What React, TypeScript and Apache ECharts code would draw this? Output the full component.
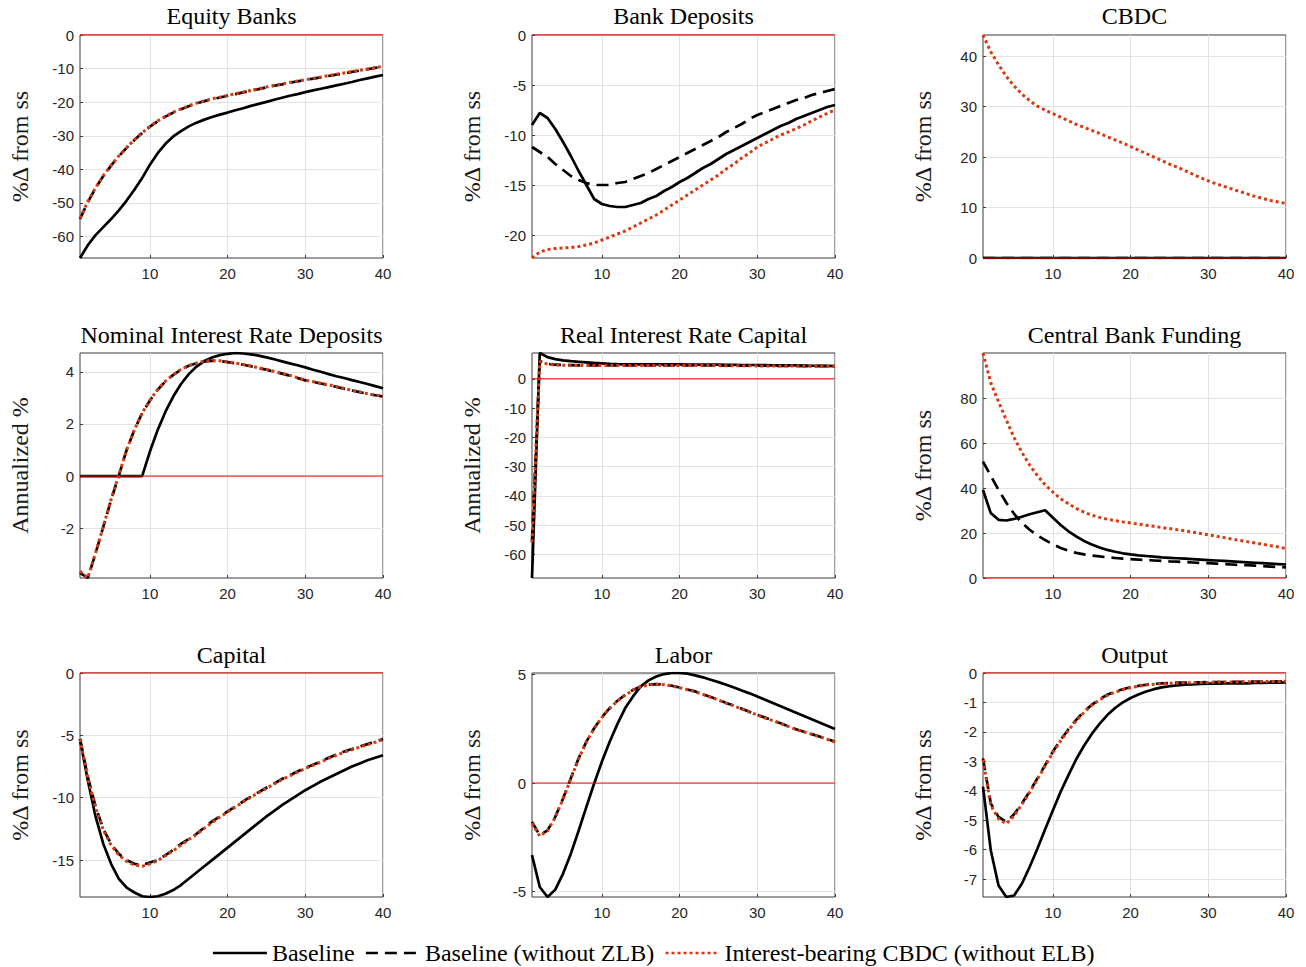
import React, { useEffect, useRef } from "react";
import * as echarts from "echarts";

const periods = [1, 2, 3, 4, 5, 6, 7, 8, 9, 10, 11, 12, 13, 14, 15, 16, 17, 18, 19, 20, 21, 22, 23, 24, 25, 26, 27, 28, 29, 30, 31, 32, 33, 34, 35, 36, 37, 38, 39, 40];
const xTickValues = [10, 20, 30, 40];
const zeroLineX = [1, 40];
const zeroLineY = [0, 0];

const seriesNames = ["Baseline", "Baseline (without ZLB)", "Interest-bearing CBDC (without ELB)"];
const panelTitles = [
  "Equity Banks", "Bank Deposits", "CBDC",
  "Nominal Interest Rate Deposits", "Real Interest Rate Capital", "Central Bank Funding",
  "Capital", "Labor", "Output",
];
const yAxisNames = [
  "%Δ from ss", "%Δ from ss", "%Δ from ss",
  "Annualized %", "Annualized %", "%Δ from ss",
  "%Δ from ss", "%Δ from ss", "%Δ from ss",
];
const yTickValues = [
  [-60, -50, -40, -30, -20, -10, 0],
  [-20, -15, -10, -5, 0],
  [0, 10, 20, 30, 40],
  [-2, 0, 2, 4],
  [-60, -50, -40, -30, -20, -10, 0],
  [0, 20, 40, 60, 80],
  [-15, -10, -5, 0],
  [-5, 0, 5],
  [-7, -6, -5, -4, -3, -2, -1, 0],
];
const yMins = [-66.4, -22.3, 0, -3.91, -68, 0, -17.96, -5.26, -7.61];
const yMaxs = [0, 0, 44.2, 4.72, 8.8, 100.2, 0, 5.08, 0];

// Equity Banks
const equitySolid = [-66.4, -62.6, -59.6, -57.2, -54.8, -52.2, -49.3, -46.1, -42.6, -38.6, -35.2, -32.4, -30.2, -28.6, -27.2, -26.1, -25.2, -24.4, -23.7, -23.1, -22.4, -21.8, -21.1, -20.5, -19.9, -19.3, -18.7, -18.1, -17.6, -17.0, -16.5, -16.0, -15.5, -15.0, -14.5, -14.0, -13.4, -12.9, -12.4, -11.9];
const equityDashed = [-54.8, -49.8, -45.6, -42.0, -38.9, -36.1, -33.6, -31.3, -29.2, -27.3, -25.7, -24.3, -23.1, -22.1, -21.2, -20.4, -19.7, -19.1, -18.6, -18.1, -17.6, -17.1, -16.6, -16.1, -15.6, -15.1, -14.7, -14.2, -13.8, -13.4, -13.0, -12.6, -12.2, -11.8, -11.4, -11.0, -10.6, -10.2, -9.8, -9.4];
const equityDotted = [-54.6, -49.6, -45.5, -41.9, -38.8, -36.0, -33.5, -31.2, -29.1, -27.2, -25.6, -24.2, -23.0, -22.0, -21.1, -20.3, -19.6, -19.0, -18.5, -18.0, -17.5, -17.0, -16.5, -16.0, -15.5, -15.0, -14.6, -14.1, -13.7, -13.3, -12.9, -12.5, -12.1, -11.7, -11.3, -10.9, -10.5, -10.1, -9.7, -9.3];

// Bank Deposits
const depositsSolid = [-9.0, -7.8, -8.3, -9.4, -10.7, -12.1, -13.6, -15.0, -16.4, -16.9, -17.1, -17.2, -17.2, -17.0, -16.8, -16.4, -16.1, -15.6, -15.2, -14.7, -14.3, -13.8, -13.3, -12.9, -12.4, -11.9, -11.5, -11.1, -10.7, -10.3, -9.9, -9.5, -9.1, -8.8, -8.4, -8.1, -7.8, -7.5, -7.2, -7.0];
const depositsDashed = [-11.2, -11.7, -12.2, -12.9, -13.5, -14.1, -14.5, -14.8, -15.0, -15.0, -15.0, -14.8, -14.7, -14.4, -14.1, -13.8, -13.4, -13.0, -12.6, -12.2, -11.8, -11.4, -11.0, -10.6, -10.2, -9.7, -9.3, -8.9, -8.4, -8.0, -7.7, -7.4, -7.1, -6.8, -6.5, -6.3, -6.0, -5.8, -5.6, -5.4];
const depositsDotted = [-22.3, -21.7, -21.45, -21.35, -21.3, -21.25, -21.15, -21.0, -20.8, -20.5, -20.2, -19.9, -19.6, -19.2, -18.8, -18.4, -18.0, -17.5, -17.0, -16.5, -16.0, -15.5, -15.0, -14.5, -14.0, -13.4, -12.9, -12.3, -11.8, -11.2, -10.8, -10.4, -10.0, -9.7, -9.35, -9.0, -8.6, -8.2, -7.85, -7.5];

// CBDC
const cbdcSolid = [0, 0, 0, 0, 0, 0, 0, 0, 0, 0, 0, 0, 0, 0, 0, 0, 0, 0, 0, 0, 0, 0, 0, 0, 0, 0, 0, 0, 0, 0, 0, 0, 0, 0, 0, 0, 0, 0, 0, 0];
const cbdcDashed = [0, 0, 0, 0, 0, 0, 0, 0, 0, 0, 0, 0, 0, 0, 0, 0, 0, 0, 0, 0, 0, 0, 0, 0, 0, 0, 0, 0, 0, 0, 0, 0, 0, 0, 0, 0, 0, 0, 0, 0];
const cbdcDotted = [44.2, 40.9, 38.3, 36.0, 34.1, 32.5, 31.2, 30.1, 29.3, 28.6, 27.9, 27.2, 26.5, 25.9, 25.3, 24.7, 24.0, 23.4, 22.8, 22.1, 21.4, 20.7, 20.0, 19.3, 18.6, 18.0, 17.3, 16.6, 15.9, 15.3, 14.7, 14.2, 13.7, 13.2, 12.7, 12.2, 11.8, 11.4, 11.1, 10.8];

// Nominal Interest Rate Deposits
const nominalSolid = [0, 0, 0, 0, 0, 0, 0, 0, 0, 0.94, 1.77, 2.47, 3.05, 3.53, 3.91, 4.2, 4.41, 4.55, 4.64, 4.69, 4.72, 4.7, 4.67, 4.62, 4.55, 4.48, 4.4, 4.32, 4.25, 4.17, 4.08, 4.0, 3.91, 3.83, 3.76, 3.68, 3.61, 3.53, 3.45, 3.37];
const nominalDashed = [-3.71, -3.91, -2.97, -1.95, -0.92, 0.02, 1.0, 1.77, 2.41, 2.9, 3.31, 3.63, 3.88, 4.08, 4.23, 4.33, 4.4, 4.42, 4.41, 4.37, 4.32, 4.27, 4.21, 4.14, 4.08, 4.0, 3.93, 3.85, 3.76, 3.67, 3.61, 3.55, 3.49, 3.42, 3.35, 3.28, 3.22, 3.15, 3.1, 3.05];
const nominalDotted = [-3.65, -3.9, -2.95, -1.93, -0.9, 0.04, 1.0, 1.78, 2.42, 2.91, 3.32, 3.64, 3.89, 4.09, 4.24, 4.34, 4.41, 4.43, 4.42, 4.38, 4.33, 4.28, 4.22, 4.15, 4.09, 4.01, 3.94, 3.86, 3.77, 3.68, 3.62, 3.56, 3.5, 3.43, 3.36, 3.29, 3.23, 3.16, 3.11, 3.06];

// Real Interest Rate Capital
const realSolid = [-68.0, 8.8, 7.4, 6.7, 6.3, 6.0, 5.8, 5.6, 5.4, 5.25, 5.1, 5.0, 4.95, 4.9, 4.9, 4.9, 4.9, 4.9, 4.9, 4.9, 4.85, 4.85, 4.8, 4.8, 4.8, 4.75, 4.75, 4.7, 4.7, 4.7, 4.65, 4.6, 4.6, 4.55, 4.55, 4.5, 4.45, 4.45, 4.4, 4.35];
const realDashed = [-55.5, 6.0, 5.1, 4.8, 4.7, 4.65, 4.6, 4.6, 4.6, 4.6, 4.6, 4.6, 4.6, 4.6, 4.6, 4.6, 4.6, 4.6, 4.6, 4.6, 4.6, 4.6, 4.55, 4.55, 4.55, 4.5, 4.5, 4.5, 4.5, 4.45, 4.45, 4.45, 4.4, 4.4, 4.4, 4.35, 4.35, 4.3, 4.3, 4.3];
const realDotted = [-55.8, 5.9, 5.0, 4.75, 4.65, 4.6, 4.55, 4.55, 4.55, 4.55, 4.55, 4.55, 4.55, 4.55, 4.55, 4.55, 4.55, 4.55, 4.55, 4.55, 4.55, 4.55, 4.5, 4.5, 4.5, 4.45, 4.45, 4.45, 4.45, 4.4, 4.4, 4.4, 4.35, 4.35, 4.35, 4.3, 4.3, 4.25, 4.25, 4.25];

// Central Bank Funding
const cbfSolid = [39.2, 28.9, 25.9, 25.6, 26.3, 27.3, 28.4, 29.3, 30.2, 26.8, 23.6, 20.8, 18.5, 16.5, 14.9, 13.6, 12.5, 11.7, 11.0, 10.5, 10.1, 9.8, 9.5, 9.2, 9.0, 8.8, 8.6, 8.4, 8.2, 8.0, 7.8, 7.6, 7.4, 7.2, 7.0, 6.8, 6.6, 6.4, 6.2, 6.0];
const cbfDashed = [51.8, 45.5, 39.3, 33.5, 28.6, 24.6, 21.5, 19.0, 16.9, 15.0, 13.4, 12.2, 11.2, 10.5, 10.0, 9.6, 9.2, 8.9, 8.6, 8.4, 8.2, 8.0, 7.8, 7.6, 7.4, 7.3, 7.1, 6.9, 6.7, 6.6, 6.4, 6.2, 6.0, 5.8, 5.7, 5.5, 5.3, 5.1, 4.9, 4.7];
const cbfDotted = [100.2, 87.0, 78.5, 70.4, 62.5, 56.0, 50.3, 45.6, 41.5, 38.2, 35.3, 33.0, 31.0, 29.3, 28.0, 27.0, 26.2, 25.6, 25.0, 24.5, 24.0, 23.5, 23.0, 22.5, 22.0, 21.5, 21.0, 20.4, 19.8, 19.2, 18.6, 18.0, 17.4, 16.8, 16.2, 15.6, 15.0, 14.4, 13.8, 13.1];

// Capital
const capitalSolid = [-5.3, -8.6, -11.5, -13.7, -15.3, -16.5, -17.2, -17.6, -17.9, -17.96, -17.9, -17.7, -17.4, -17.0, -16.5, -16.0, -15.5, -15.0, -14.5, -14.0, -13.5, -13.0, -12.5, -12.0, -11.5, -11.05, -10.6, -10.2, -9.8, -9.4, -9.05, -8.7, -8.4, -8.1, -7.8, -7.5, -7.25, -7.0, -6.8, -6.6];
const capitalDashed = [-5.3, -8.3, -10.7, -12.5, -13.7, -14.5, -15.0, -15.3, -15.4, -15.2, -15.0, -14.6, -14.2, -13.7, -13.3, -12.9, -12.4, -11.9, -11.5, -11.1, -10.7, -10.3, -9.9, -9.55, -9.2, -8.85, -8.5, -8.2, -7.9, -7.6, -7.35, -7.1, -6.8, -6.55, -6.3, -6.1, -5.9, -5.7, -5.5, -5.3];
const capitalDotted = [-5.3, -8.4, -10.8, -12.6, -13.8, -14.6, -15.1, -15.4, -15.5, -15.3, -15.05, -14.65, -14.25, -13.8, -13.35, -12.95, -12.45, -12.0, -11.55, -11.15, -10.75, -10.35, -9.95, -9.6, -9.25, -8.9, -8.55, -8.25, -7.95, -7.65, -7.4, -7.15, -6.85, -6.6, -6.35, -6.15, -5.95, -5.75, -5.55, -5.35];

// Labor
const laborSolid = [-3.33, -4.8, -5.26, -4.92, -4.18, -3.26, -2.2, -1.1, -0.02, 0.99, 1.91, 2.73, 3.46, 4.0, 4.46, 4.74, 4.92, 5.03, 5.08, 5.08, 5.05, 4.97, 4.88, 4.77, 4.66, 4.54, 4.41, 4.27, 4.14, 4.0, 3.85, 3.7, 3.55, 3.4, 3.25, 3.1, 2.95, 2.8, 2.65, 2.5];
const laborDashed = [-1.79, -2.41, -2.18, -1.56, -0.71, 0.22, 1.14, 1.91, 2.53, 3.04, 3.46, 3.8, 4.07, 4.3, 4.46, 4.54, 4.57, 4.55, 4.49, 4.41, 4.32, 4.23, 4.1, 3.97, 3.84, 3.7, 3.57, 3.43, 3.29, 3.15, 3.02, 2.89, 2.76, 2.62, 2.48, 2.37, 2.26, 2.15, 2.03, 1.91];
const laborDotted = [-1.85, -2.45, -2.2, -1.58, -0.73, 0.2, 1.12, 1.9, 2.52, 3.03, 3.45, 3.79, 4.06, 4.29, 4.45, 4.53, 4.56, 4.54, 4.48, 4.4, 4.31, 4.22, 4.09, 3.96, 3.83, 3.69, 3.56, 3.42, 3.28, 3.14, 3.01, 2.88, 2.75, 2.61, 2.47, 2.36, 2.25, 2.14, 2.02, 1.9];

// Output
const outputSolid = [-3.86, -6.02, -7.22, -7.61, -7.56, -7.16, -6.59, -5.97, -5.31, -4.66, -4.03, -3.47, -2.93, -2.47, -2.07, -1.73, -1.43, -1.19, -1.0, -0.85, -0.73, -0.63, -0.55, -0.49, -0.45, -0.42, -0.4, -0.39, -0.37, -0.36, -0.36, -0.35, -0.35, -0.35, -0.35, -0.34, -0.34, -0.33, -0.33, -0.32];
const outputDashed = [-2.9, -4.43, -4.89, -5.06, -4.8, -4.43, -4.03, -3.58, -3.13, -2.67, -2.27, -1.91, -1.59, -1.31, -1.08, -0.89, -0.74, -0.63, -0.55, -0.48, -0.44, -0.4, -0.37, -0.35, -0.34, -0.33, -0.33, -0.32, -0.32, -0.31, -0.31, -0.31, -0.3, -0.3, -0.3, -0.29, -0.29, -0.29, -0.28, -0.28];
const outputDotted = [-2.95, -4.5, -4.95, -5.12, -4.85, -4.47, -4.06, -3.61, -3.16, -2.7, -2.3, -1.94, -1.62, -1.34, -1.1, -0.91, -0.76, -0.65, -0.57, -0.5, -0.45, -0.41, -0.38, -0.36, -0.35, -0.34, -0.33, -0.33, -0.32, -0.32, -0.31, -0.31, -0.31, -0.3, -0.3, -0.3, -0.29, -0.29, -0.29, -0.28];

const panelSolid = [equitySolid, depositsSolid, cbdcSolid, nominalSolid, realSolid, cbfSolid, capitalSolid, laborSolid, outputSolid];
const panelDashed = [equityDashed, depositsDashed, cbdcDashed, nominalDashed, realDashed, cbfDashed, capitalDashed, laborDashed, outputDashed];
const panelDotted = [equityDotted, depositsDotted, cbdcDotted, nominalDotted, realDotted, cbfDotted, capitalDotted, laborDotted, outputDotted];

// layout
const GRID_LEFTS = [80, 532, 983];
const GRID_WIDTH = 303;
const GRID_TOPS = [35, 353, 673];
const GRID_HEIGHTS = [223, 225, 224];
const TITLE_Y = [16, 335, 655];
const YNAME_X = [20, 472, 923];

const SERIF = '"Liberation Serif", "Times New Roman", serif';
const SANS = '"Liberation Sans", Arial, Helvetica, sans-serif';
const AXIS_COLOR = "#3a3a3a";
const GRID_COLOR = "#e3e3e3";
const RED_DOT = "#d63a12";
const LW = 2.7;

function buildOption() {
  const grid: any[] = [];
  const xAxis: any[] = [];
  const yAxis: any[] = [];
  const series: any[] = [];
  const graphic: any[] = [];

  for (let i = 0; i < 9; i++) {
    const r = Math.floor(i / 3);
    const c = i % 3;
    grid.push({
      left: GRID_LEFTS[c], top: GRID_TOPS[r], width: GRID_WIDTH, height: GRID_HEIGHTS[r],
      containLabel: false, show: true, borderColor: AXIS_COLOR, borderWidth: 1, backgroundColor: "transparent",
    });

    const lineStyle = { color: AXIS_COLOR, width: 1 };
    xAxis.push({
      type: "value", gridIndex: i, min: 1, max: 40, position: "bottom",
      axisLine: { show: false, onZero: false, lineStyle },
      axisTick: { show: true, inside: true, length: 3, customValues: xTickValues, lineStyle },
      axisLabel: { customValues: xTickValues, color: "#262626", fontSize: 15, fontFamily: SANS, margin: 8 },
      splitLine: { show: true, lineStyle: { color: GRID_COLOR, width: 1 } },
    });
    yAxis.push({
      type: "value", gridIndex: i, min: yMins[i], max: yMaxs[i], position: "left",
      axisLine: { show: false, onZero: false, lineStyle },
      axisTick: { show: true, inside: true, length: 3, customValues: yTickValues[i], lineStyle },
      axisLabel: { customValues: yTickValues[i], color: "#262626", fontSize: 15, fontFamily: SANS, margin: 6 },
      splitLine: { show: true, lineStyle: { color: GRID_COLOR, width: 1 } },
    });

    const common = { type: "line", xAxisIndex: i, yAxisIndex: i, symbol: "none", showSymbol: false, silent: true, clip: true };
    series.push({
      ...common, name: seriesNames[0],
      data: periods.map((p, k) => [p, panelSolid[i][k]]),
      lineStyle: { color: "#000000", width: LW, type: "solid" },
      itemStyle: { color: "#000000" }, z: 2,
    });
    series.push({
      ...common, name: seriesNames[1],
      data: periods.map((p, k) => [p, panelDashed[i][k]]),
      lineStyle: { color: "#000000", width: LW, type: [12, 7] },
      itemStyle: { color: "#000000" }, z: 3,
    });
    series.push({
      ...common, name: seriesNames[2],
      data: periods.map((p, k) => [p, panelDotted[i][k]]),
      lineStyle: { color: RED_DOT, width: 3, type: [3, 3] },
      itemStyle: { color: RED_DOT }, z: 4,
    });
    series.push({
      ...common, name: "zero-" + i, clip: false,
      data: zeroLineX.map((p, k) => [p, zeroLineY[k]]),
      lineStyle: { color: "#ff0000", width: 1, type: "solid" },
      itemStyle: { color: "#ff0000" }, z: 10,
    });

    const cx = GRID_LEFTS[c] + GRID_WIDTH / 2;
    graphic.push({
      type: "text", x: cx, y: TITLE_Y[r], silent: true,
      style: { text: panelTitles[i], fill: "#000", font: `24px ${SERIF}`, textAlign: "center", textVerticalAlign: "middle", align: "center", verticalAlign: "middle" },
    });
    const cy = GRID_TOPS[r] + GRID_HEIGHTS[r] / 2;
    graphic.push({
      type: "text", x: YNAME_X[c], y: cy, rotation: Math.PI / 2, silent: true,
      style: { text: yAxisNames[i], fill: "#1a1a1a", font: `24px ${SERIF}`, textAlign: "center", textVerticalAlign: "middle", align: "center", verticalAlign: "middle" },
    });
  }

  return {
    animation: false,
    backgroundColor: "#ffffff",
    grid, xAxis, yAxis, series, graphic,
    legend: {
      data: seriesNames, top: 936, left: "center", itemWidth: 54, itemHeight: 14, itemGap: 10,
      selectedMode: false,
      lineStyle: { width: LW },
      itemStyle: { opacity: 0, borderWidth: 0 },
      textStyle: { fontFamily: SERIF, fontSize: 24, color: "#000" },
    },
  };
}

export default function App() {
  const ref = useRef<HTMLDivElement | null>(null);
  useEffect(() => {
    if (!ref.current) return;
    const chart = echarts.init(ref.current, undefined, { renderer: "svg" });
    chart.setOption(buildOption() as any);
    return () => chart.dispose();
  }, []);
  return <div ref={ref} style={{ position: "absolute", left: 0, top: 0, width: 1306, height: 967, background: "#fff" }} />;
}
